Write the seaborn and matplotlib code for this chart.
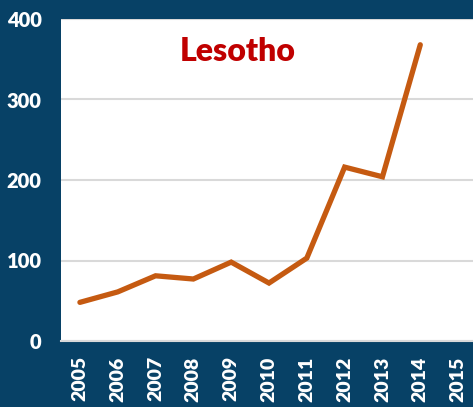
import matplotlib
matplotlib.use("Agg")
import matplotlib.pyplot as plt
import seaborn as sns
import pandas as pd
import numpy as np

years = ["2005", "2006", "2007", "2008", "2009", "2010",
         "2011", "2012", "2013", "2014", "2015"]
values = [48, 61, 81, 77, 98, 72, 103, 216, 204, 368, np.nan]
y_ticks = [0, 100, 200, 300, 400]
title = "Lesotho"

bg = "#074166"
line_color = "#c55a11"

sns.set_theme(style="white")
plt.rcParams["font.family"] = ["Lato", "DejaVu Sans"]

df = pd.DataFrame({"year": years, "value": values})
df["pos"] = np.arange(len(years))

fig = plt.figure(figsize=(4.73, 4.07), dpi=100, facecolor=bg)
W, H = 473, 407
ax = fig.add_axes([61 / W, 1 - 341 / H, 416 / W, (341 - 19) / H])
ax.set_facecolor("white")

sns.lineplot(data=df, x="pos", y="value", ax=ax, color=line_color,
             linewidth=3.8, solid_capstyle="round", solid_joinstyle="miter")

ax.set_xlim(-0.5, len(years) - 0.5)
ax.set_ylim(0, 400)
ax.set_yticks(y_ticks)
ax.set_yticklabels([str(t) for t in y_ticks], color="white",
                   fontweight="heavy", fontsize=14.5)
ax.set_xticks(df["pos"])
ax.set_xticklabels(years, rotation=90, color="white",
                   fontweight="heavy", fontsize=14)
ax.tick_params(axis="y", length=0, pad=14)
ax.tick_params(axis="x", length=0, pad=11)
ax.set_xlabel("")
ax.set_ylabel("")
ax.grid(axis="y", color="#d9d9d9", linewidth=1.5)
ax.set_axisbelow(True)
for s in ["left", "right", "top"]:
    ax.spines[s].set_visible(False)
ax.spines["bottom"].set_color("#d9d9d9")
ax.spines["bottom"].set_linewidth(1.5)

ax.text(0.425, 0.9, title, transform=ax.transAxes, ha="center", va="center",
        color="#c00000", fontweight="heavy", fontsize=23)

fig.savefig("out.png", dpi=100, facecolor=bg)
